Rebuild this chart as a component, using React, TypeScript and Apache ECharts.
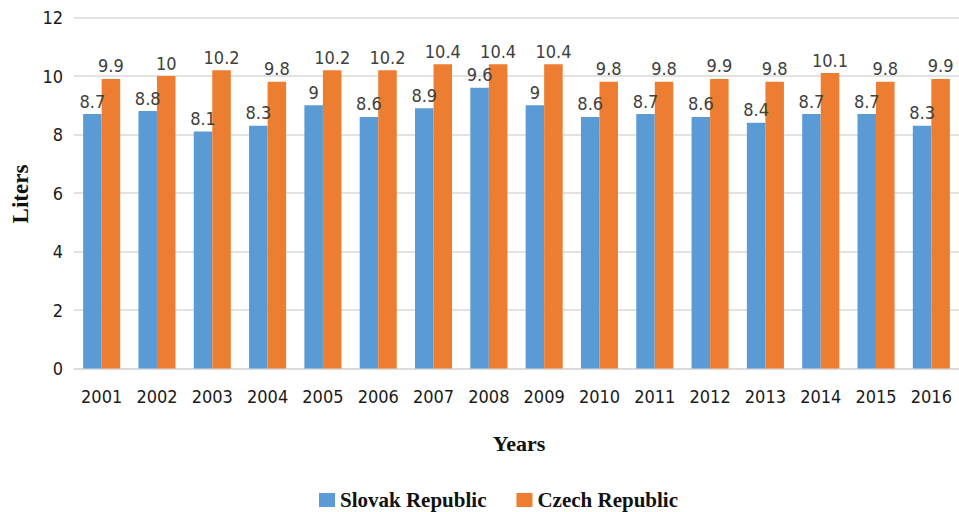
import React, { useEffect, useRef } from "react";
import * as echarts from "echarts";

const years = ["2001","2002","2003","2004","2005","2006","2007","2008","2009","2010","2011","2012","2013","2014","2015","2016"];
const slovak = [8.7, 8.8, 8.1, 8.3, 9, 8.6, 8.9, 9.6, 9, 8.6, 8.7, 8.6, 8.4, 8.7, 8.7, 8.3];
const czech = [9.9, 10, 10.2, 9.8, 10.2, 10.2, 10.4, 10.4, 10.4, 9.8, 9.8, 9.9, 9.8, 10.1, 9.8, 9.9];
const seriesNames = ["Slovak Republic", "Czech Republic"];
const yTicks = { min: 0, max: 12, interval: 2 };

const NARROW = "'DejaVu Sans Condensed', 'Liberation Sans Narrow', Roboto, sans-serif";
const SERIF = "'Liberation Serif', 'DejaVu Serif', serif";

export default function App() {
  const ref = useRef<HTMLDivElement>(null);
  useEffect(() => {
    if (!ref.current) return;
    const chart = echarts.init(ref.current, undefined, { renderer: "svg" });
    const label = {
      show: true,
      position: "top" as const,
      distance: 4,
      color: "#404040",
      fontFamily: NARROW,
      fontSize: 18,
    };
    chart.setOption({
      animation: false,
      backgroundColor: "#ffffff",
      grid: { left: 74, right: -4, top: 17.5, bottom: 143.5, containLabel: false },
      legend: {
        data: seriesNames,
        left: 314,
        top: 484,
        itemWidth: 16,
        itemHeight: 14,
        itemGap: 30,
        icon: "rect",
        textStyle: { fontFamily: SERIF, fontWeight: "bold", fontSize: 21, color: "#111", lineHeight: 22 },
      },
      xAxis: {
        type: "category",
        data: years,
        axisLine: { show: true, lineStyle: { color: "#d9d9d9", width: 1.5 } },
        axisTick: { show: false },
        axisLabel: { color: "#1a1a1a", fontFamily: NARROW, fontSize: 18, margin: 19, interval: 0 },
      },
      yAxis: {
        type: "value",
        min: yTicks.min,
        max: yTicks.max,
        interval: yTicks.interval,
        axisLine: { show: false },
        axisTick: { show: false },
        splitLine: { lineStyle: { color: "#d9d9d9", width: 1.5 } },
        axisLabel: { color: "#1a1a1a", fontFamily: NARROW, fontSize: 18, margin: 11 },
      },
      graphic: [
        {
          type: "text",
          x: 20,
          y: 194,
          rotation: Math.PI / 2,
          style: {
            text: "Liters",
            fontFamily: SERIF,
            fontWeight: "bold",
            fontSize: 23,
            fill: "#111",
            align: "center",
            verticalAlign: "middle",
          },
        },
        {
          type: "text",
          x: 519,
          y: 443,
          style: {
            text: "Years",
            fontFamily: SERIF,
            fontWeight: "bold",
            fontSize: 22,
            fill: "#111",
            align: "center",
            verticalAlign: "middle",
          },
        },
      ],
      series: [
        {
          name: seriesNames[0],
          type: "bar",
          data: slovak,
          itemStyle: { color: "#5b9bd5" },
          barGap: "0%",
          barCategoryGap: "33%",
          label,
        },
        {
          name: seriesNames[1],
          type: "bar",
          data: czech,
          itemStyle: { color: "#ed7d31" },
          barGap: "0%",
          barCategoryGap: "33%",
          label,
        },
      ],
    });
    return () => chart.dispose();
  }, []);
  return (
    <div
      ref={ref}
      style={{ position: "fixed", left: 0, top: 0, width: 959, height: 512, background: "#fff" }}
    />
  );
}
